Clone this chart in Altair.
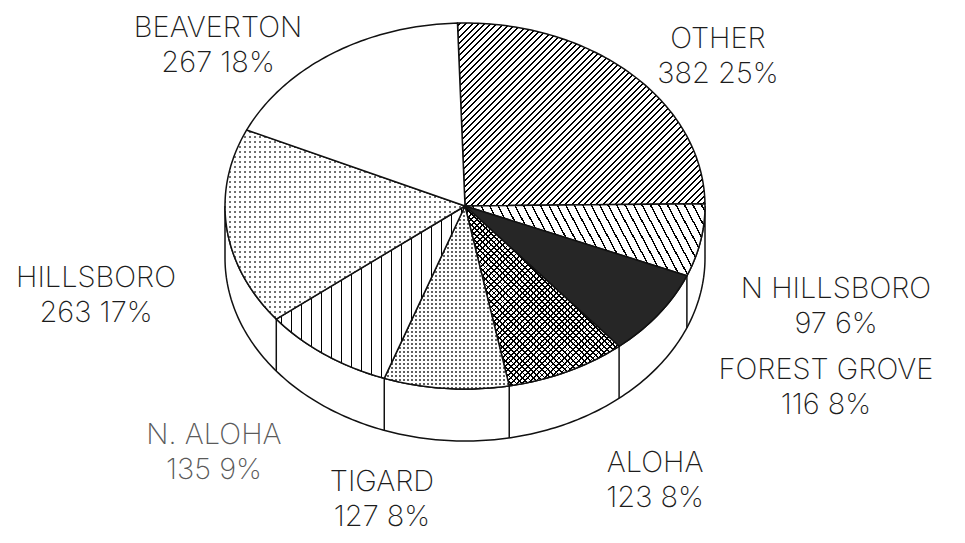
import math
import altair as alt
import pandas as pd

# ---------------- data ----------------
cities = ["OTHER", "N HILLSBORO", "FOREST GROVE", "ALOHA", "TIGARD", "N. ALOHA", "HILLSBORO", "BEAVERTON"]
counts = [382, 97, 116, 123, 127, 135, 263, 267]

# ---------------- layout / style ----------------
W, H = 949, 527
PX_X, PX_Y = 240.0, 183.0      # pixels per unit radius (ellipse)
CX, CY = 457.0, 198.0          # pie centre inside plot area
DEPTH = 52.0 / PX_Y            # 3-D side thickness in y units
START = -1.8                   # start angle of first slice (deg, clockwise from top)
x_dom = [-CX / PX_X, (W - CX) / PX_X]
y_dom = [(CY - H) / PX_Y, CY / PX_Y]

# label anchors (unit-radius coordinates), per city
label_pos = {
    "OTHER": (1.054, 0.825),
    "N HILLSBORO": (1.546, -0.541),
    "FOREST GROVE": (1.504, -0.989),
    "ALOHA": (0.792, -1.492),
    "TIGARD": (-0.346, -1.596),
    "N. ALOHA": (-1.046, -1.344),
    "HILLSBORO": (-1.5375, -0.481),
    "BEAVERTON": (-1.029, 0.883),
}
label_color = {c: "#1c1c1c" for c in cities}
label_color["N. ALOHA"] = "#5a5a5a"

total = sum(counts)
xs = alt.X("x:Q", scale=alt.Scale(domain=x_dom, nice=False, zero=False), axis=None)
ys = alt.Y("y:Q", scale=alt.Scale(domain=y_dom, nice=False, zero=False), axis=None)

# slice polygons
rows, bounds = [], {}
acc = 0
for name, c in zip(cities, counts):
    a0 = START + acc / total * 360.0
    acc += c
    a1 = START + acc / total * 360.0
    bounds[name] = (a0, a1)
    n = max(3, int(a1 - a0) + 2)
    rows.append(dict(city=name, i=0, x=0.0, y=0.0))
    for k in range(n):
        a = math.radians(a0 + (a1 - a0) * k / (n - 1))
        rows.append(dict(city=name, i=k + 1, x=math.sin(a), y=math.cos(a)))
poly = pd.DataFrame(rows)

# side wall polygon (front half, 90deg -> 270deg)
side_rows = []
k = 0
for d in range(90, 271):
    a = math.radians(d)
    side_rows.append(dict(i=k, x=math.sin(a), y=math.cos(a))); k += 1
for d in range(270, 89, -1):
    a = math.radians(d)
    side_rows.append(dict(i=k, x=math.sin(a), y=math.cos(a) - DEPTH)); k += 1
side = pd.DataFrame(side_rows)

# vertical edges of the side wall at slice boundaries on the front
edge_rows = []
for name in cities:
    a1 = bounds[name][1]
    if 90 < a1 < 270:
        a = math.radians(a1)
        edge_rows.append(dict(x=math.sin(a), y=math.cos(a), y2=math.cos(a) - DEPTH))
edges = pd.DataFrame(edge_rows)


def bbox(name):
    d = poly[poly.city == name]
    return (d.x.max() - d.x.min()) * PX_X, (d.y.max() - d.y.min()) * PX_Y


def stripes(w, h, angle, spacing, lw, fg="#000000", bg="#ffffff"):
    a = math.radians(angle)
    nx, ny = math.sin(a), math.cos(a)
    corners = [nx * w * u + ny * h * v for u in (0, 1) for v in (0, 1)]
    m, M = min(corners), max(corners)
    E = M - m
    kx, ky = nx * w / E, ny * h / E
    k2 = kx * kx + ky * ky
    p1 = (kx * (m / E) / k2, ky * (m / E) / k2)
    p2 = (p1[0] + kx / k2, p1[1] + ky / k2)
    stops = []
    hw = lw / 2.0 / E
    s = spacing / 2.0
    while s < E:
        t = s / E
        lo, hi = max(0.0, t - hw), min(1.0, t + hw)
        stops += [dict(offset=lo, color=bg), dict(offset=lo, color=fg),
                  dict(offset=hi, color=fg), dict(offset=hi, color=bg)]
        s += spacing
    return dict(gradient="linear", stops=stops, x1=p1[0], y1=p1[1], x2=p2[0], y2=p2[1])


def dots(name, spacing, size, color):
    w, h = bbox(name)
    return ["#ffffff",
            stripes(w, h, 0, spacing, size, fg=color, bg="transparent"),
            stripes(w, h, 90, spacing, spacing - size, fg="#ffffff", bg="transparent")]


fills = {
    "OTHER": [stripes(*bbox("OTHER"), 45, 4.4, 1.4)],
    "N HILLSBORO": [stripes(*bbox("N HILLSBORO"), -62, 7.5, 1.4)],
    "FOREST GROVE": ["#262626"],
    "ALOHA": ["#ffffff",
              stripes(*bbox("ALOHA"), 45, 4.0, 1.3, bg="transparent"),
              stripes(*bbox("ALOHA"), -45, 4.0, 1.3, bg="transparent")],
    "TIGARD": dots("TIGARD", 4.0, 2.0, "#606060"),
    "N. ALOHA": [stripes(*bbox("N. ALOHA"), 90, 10.0, 1.5)],
    "HILLSBORO": dots("HILLSBORO", 5.0, 2.0, "#707070"),
    "BEAVERTON": ["#ffffff"],
}

layers = []
layers.append(
    alt.Chart(side).mark_line(fill="#ffffff", stroke="#111111", strokeWidth=1.5,
                              interpolate="linear-closed")
    .encode(x=xs, y=ys, order=alt.Order("i:Q"))
)
layers.append(
    alt.Chart(edges).mark_rule(stroke="#111111", strokeWidth=1.5)
    .encode(x=xs, y=ys, y2="y2:Q")
)
for name in cities:
    d = poly[poly.city == name]
    fl = fills[name]
    for j, f in enumerate(fl):
        last = j == len(fl) - 1
        kw = dict(fill=f, interpolate="linear-closed")
        if last:
            kw.update(stroke="#111111", strokeWidth=1.5, strokeJoin="round")
        else:
            kw.update(strokeOpacity=0)
        layers.append(
            alt.Chart(d).mark_line(**kw).encode(x=xs, y=ys, order=alt.Order("i:Q"))
        )

lab = pd.DataFrame([
    dict(city=c, x=label_pos[c][0], y=label_pos[c][1],
         l2=f"{n} {round(100 * n / total)}%", col=label_color[c])
    for c, n in zip(cities, counts)
])
for field, dy in (("city", -7.5), ("l2", 27.5)):
    layers.append(
        alt.Chart(lab).mark_text(font="Inter", fontWeight=200, fontSize=29,
                                 align="center", baseline="alphabetic", dy=dy)
        .encode(x=xs, y=ys, text=f"{field}:N", color=alt.Color("col:N", scale=None))
    )

chart = (
    alt.layer(*layers)
    .properties(width=W, height=H, padding=0, autosize="none", background="white")
    .configure_view(stroke=None)
)
chart.save("out.html", embed_options={"renderer": "svg", "actions": False})
